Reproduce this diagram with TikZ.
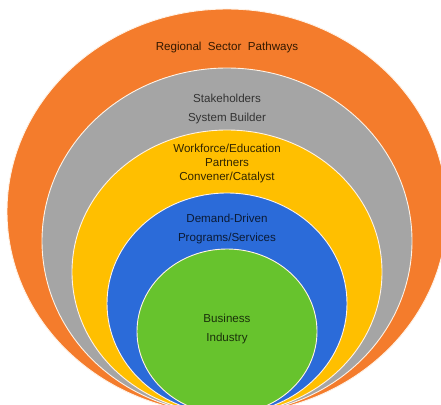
\documentclass[tikz,border=0pt]{standalone}
\usepackage{fontspec}
\setmainfont{Liberation Sans}
\begin{document}
\begin{tikzpicture}[x=1pt,y=1pt,
  ring/.style={draw=white!90!orange, line width=0.9pt},
  lbl/.style={font=\fontsize{11.6}{13}\selectfont, inner sep=0pt, anchor=center}]
\definecolor{corange}{HTML}{F47C2C}
\definecolor{cgray}{HTML}{A5A5A5}
\definecolor{cyellow}{HTML}{FFBF00}
\definecolor{cblue}{HTML}{2B6BD9}
\definecolor{cgreen}{HTML}{67C32D}
\useasboundingbox (0,0) rectangle (441,-404);
\clip (0,0) rectangle (441,-404);
\fill[white] (0,0) rectangle (441,-404);
\filldraw[ring, fill=corange] (227,-211.5) ellipse [x radius=220, y radius=202.5];
\filldraw[ring, fill=cgray]   (227,-241)   ellipse [x radius=185, y radius=173];
\filldraw[ring, fill=cyellow] (227,-272)   ellipse [x radius=155, y radius=142];
\filldraw[ring, fill=cblue]   (227,-303.5) ellipse [x radius=120, y radius=110.5];
\filldraw[ring, fill=cgreen]  (227,-331.5) ellipse [x radius=90,  y radius=82.5];
\node[lbl, text=black!80!orange] (rsp) at (227,-48) {Regional\ \ Sector\ \ Pathways};
\node[lbl, text=black!80] (stk) at (227,-98) {Stakeholders};
\node[lbl, text=black!80] (sb)  at (227,-118) {System Builder};
\node[lbl, text=black!80!cyellow] (wf) at (227,-148) {Workforce/Education};
\node[lbl, text=black!80!cyellow] (pt) at (227,-163) {Partners};
\node[lbl, text=black!80!cyellow] (cc) at (227,-177) {Convener/Catalyst};
\node[lbl, text=black!75!cblue] (dd) at (227,-218) {Demand-Driven};
\node[lbl, text=black!75!cblue] (ps) at (227,-238) {Programs/Services};
\node[lbl, text=black!75!cgreen] (bu) at (227,-318) {Business};
\node[lbl, text=black!75!cgreen] (in) at (227,-338) {Industry};
\end{tikzpicture}
\end{document}
